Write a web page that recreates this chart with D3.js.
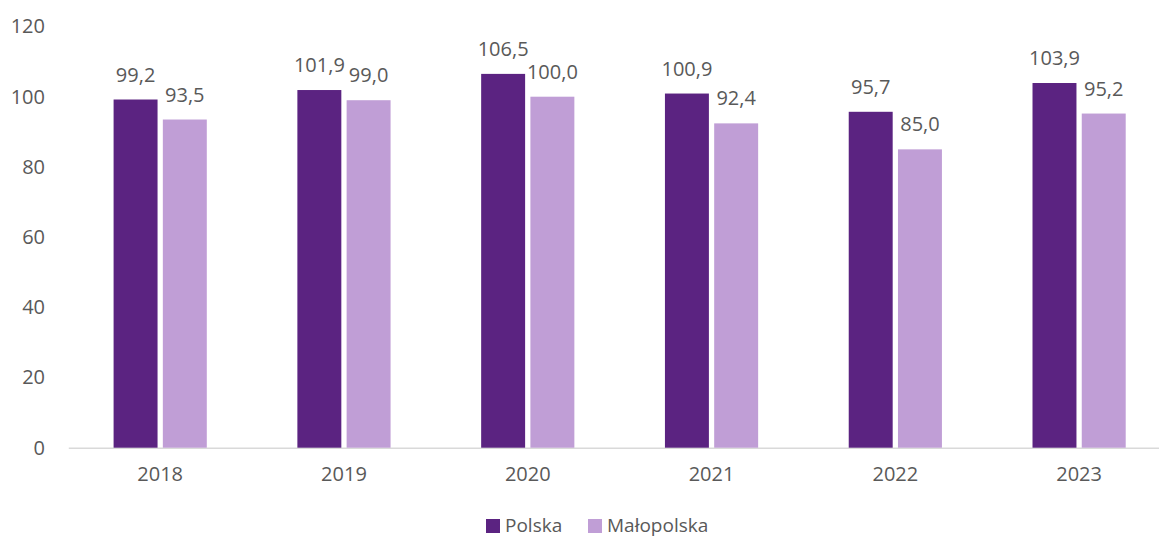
<!DOCTYPE html>
<html>
<head>
<meta charset="utf-8">
<script src="https://cdn.jsdelivr.net/npm/d3@7"></script>
<style>
  html, body { margin: 0; padding: 0; background: #fff; }
  svg { display: block; }
  text { font-family: "Open Sans", "Noto Sans", sans-serif; fill: #595959; }
</style>
</head>
<body>
<svg id="chart" width="1159" height="539"></svg>
<script>
// Years on the category axis
const years = ["2018", "2019", "2020", "2021", "2022", "2023"];
// Series values
const polska = [99.2, 101.9, 106.5, 100.9, 95.7, 103.9];
const malopolska = [93.5, 99.0, 100.0, 92.4, 85.0, 95.2];
const seriesNames = ["Polska", "Małopolska"];
const seriesColors = ["#5B2381", "#C09ED6"];
const yTicks = [0, 20, 40, 60, 80, 100, 120];

const svg = d3.select("#chart");
const W = 1159, H = 539;
const margin = { left: 68.3, right: -12, top: 26.5, bottom: 91.3 };

const x = d3.scaleBand()
  .domain(years)
  .range([margin.left, W - margin.right])
  .paddingInner(0).paddingOuter(0);

const y = d3.scaleLinear()
  .domain([0, 120])
  .range([H - margin.bottom, margin.top]);

const barW = 41.6, gap = 10;
const inner = d3.scaleBand()
  .domain([0, 1])
  .range([-(barW + gap / 2), barW + gap / 2])
  .paddingInner(gap / (2 * barW + gap));

const fmt = v => d3.format(".1f")(v).replace(".", ",");
const fontSize = 20;

// Y axis labels (no axis line, no gridlines)
const yAxis = d3.axisLeft(y).tickValues(yTicks).tickSize(0).tickPadding(0).tickFormat(d3.format("d"));
const gy = svg.append("g").attr("transform", "translate(45,0)").call(yAxis);
gy.select(".domain").remove();
gy.selectAll("text").style("font-size", fontSize + "px").attr("fill", "#595959");

// X axis baseline and labels
const xAxis = d3.axisBottom(x).tickSize(0).tickPadding(19);
const gx = svg.append("g").attr("transform", `translate(0,${y(0)})`).call(xAxis);
gx.select(".domain").attr("stroke", "#D9D9D9").attr("stroke-width", 1.5);
gx.selectAll("text").style("font-size", fontSize + "px").attr("fill", "#595959");

const data = years.map((yr, i) => ({ year: yr, vals: [polska[i], malopolska[i]] }));

const groups = svg.append("g").selectAll("g")
  .data(data).join("g")
  .attr("transform", d => `translate(${x(d.year) + x.bandwidth() / 2},0)`);

groups.selectAll("rect")
  .data(d => d.vals.map((v, k) => ({ v, k })))
  .join("rect")
  .attr("x", d => inner(d.k))
  .attr("width", inner.bandwidth())
  .attr("y", d => y(d.v))
  .attr("height", d => y(0) - y(d.v))
  .attr("fill", d => seriesColors[d.k]);

groups.selectAll("text.val")
  .data(d => d.vals.map((v, k) => ({ v, k })))
  .join("text")
  .attr("class", "val")
  .attr("x", d => inner(d.k) + inner.bandwidth() / 2)
  .attr("y", d => y(d.v) - 18)
  .attr("text-anchor", "middle")
  .style("font-size", fontSize + "px")
  .text(d => fmt(d.v));

// Legend
const legend = svg.append("g").attr("transform", "translate(0,525)");
const legendX = [486, 588];
seriesNames.forEach((name, k) => {
  legend.append("rect")
    .attr("x", legendX[k]).attr("y", -6)
    .attr("width", 14).attr("height", 14)
    .attr("fill", seriesColors[k]);
  legend.append("text")
    .attr("x", legendX[k] + 19).attr("y", 0)
    .attr("dy", "0.35em")
    .style("font-size", "19px")
    .text(name);
});
</script>
</body>
</html>
